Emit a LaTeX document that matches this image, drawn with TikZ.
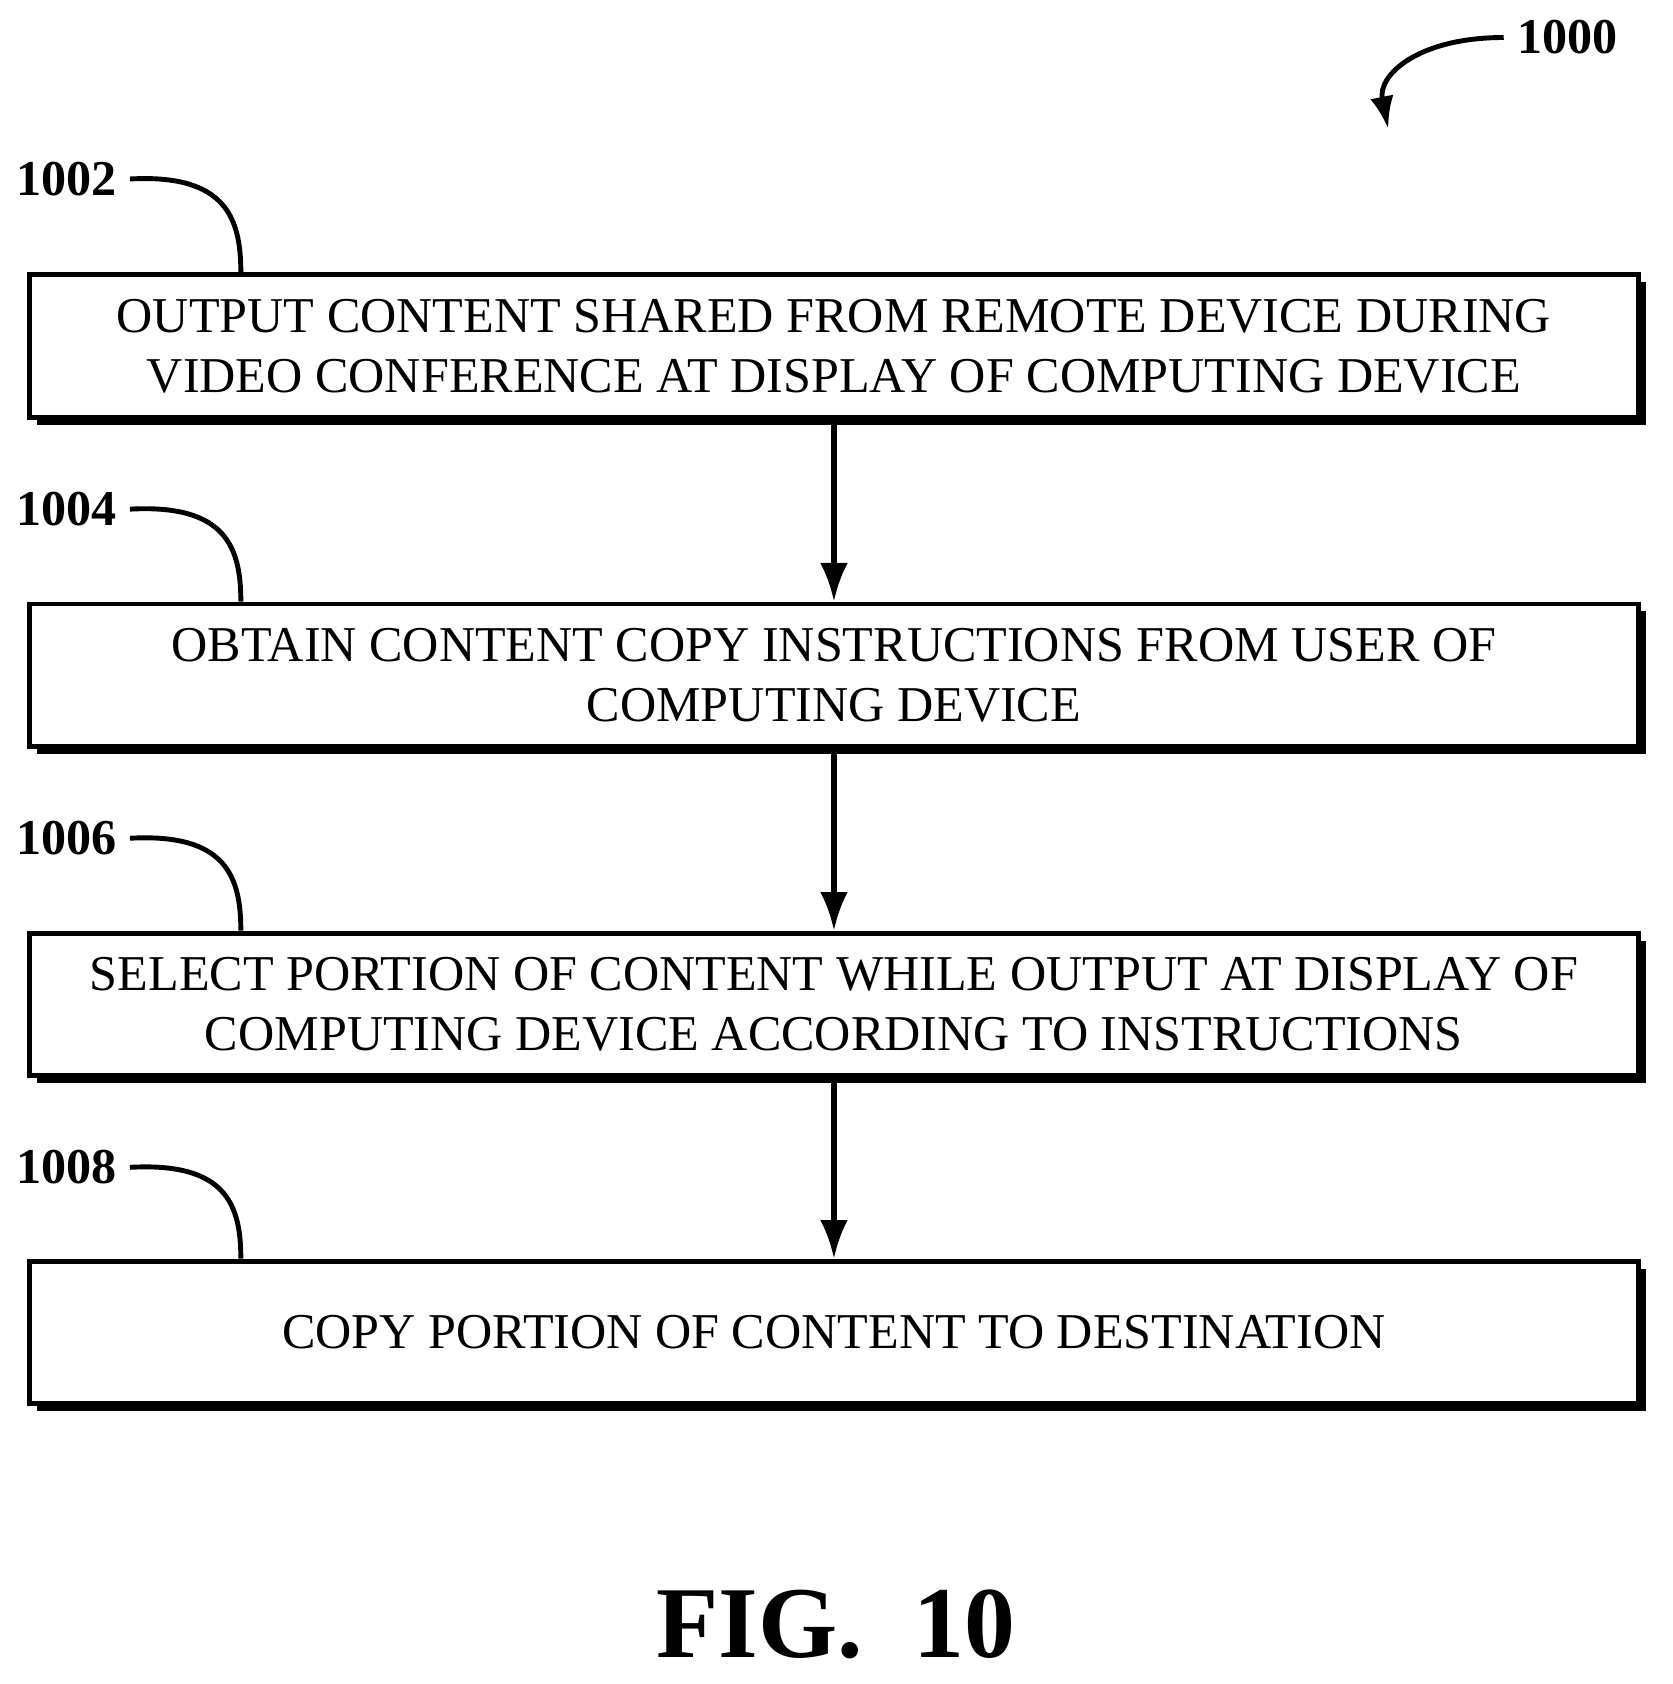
\documentclass[tikz,border=0pt]{standalone}
\usepackage{fontspec}
\setmainfont{Liberation Serif}
\usetikzlibrary{positioning,shadows,arrows.meta}
\tikzset{
  flowstep/.style={draw,line width=1.3pt,fill=white,minimum width=15cm,minimum height=1.33cm,
    align=center,font=\fontsize{13.3}{16}\selectfont,
    drop shadow={shadow xshift=0.07cm,shadow yshift=-0.07cm,opacity=1,fill=black}},
  ref/.style={font=\bfseries\fontsize{13.3}{15}\selectfont},
  flow/.style={-{Latex[length=0.36cm,width=0.26cm]},line width=1.4pt},
}
\begin{document}
\begin{tikzpicture}[x=0.01cm,y=-0.01cm]
  \useasboundingbox (0,0) rectangle (1560,1571);
  % steps
  \node[flowstep] (s1) at (778,323) {OUTPUT CONTENT SHARED FROM REMOTE DEVICE DURING\\VIDEO CONFERENCE AT DISPLAY OF COMPUTING DEVICE};
  \node[flowstep] (s2) at (778,630) {OBTAIN CONTENT COPY INSTRUCTIONS FROM USER OF\\COMPUTING DEVICE};
  \node[flowstep] (s3) at (778,937) {SELECT PORTION OF CONTENT WHILE OUTPUT AT DISPLAY OF\\COMPUTING DEVICE ACCORDING TO INSTRUCTIONS};
  \node[flowstep] (s4) at (778,1243) {COPY PORTION OF CONTENT TO DESTINATION};
  \draw[flow] (s1) -- (s2);
  \draw[flow] (s2) -- (s3);
  \draw[flow] (s3) -- (s4);
  % reference numerals
  \foreach \n/\s/\y in {1002/s1/167,1004/s2/475,1006/s3/782,1008/s4/1089}{
    \node[ref] (r\n) at (62,\y) {\n};
    \coordinate (t\n) at ([xshift=-5.53cm]\s.north);
    \draw[line width=1.3pt] (r\n.east) .. controls +(90,-5) and +(0,-50) .. (t\n);
  }
  \node[ref] (r1000) at (1462,35) {1000};
  \coordinate (a1000) at (1295,120);
  \draw[-{Latex[length=0.3cm,width=0.22cm]},line width=1.3pt] (r1000.west) .. controls +(-80,0) and +(-10,-50) .. (a1000);
  \node[font=\bfseries\fontsize{27}{30}\selectfont] (fig) at (780,1515) {FIG.\ \ 10};
\end{tikzpicture}
\end{document}
